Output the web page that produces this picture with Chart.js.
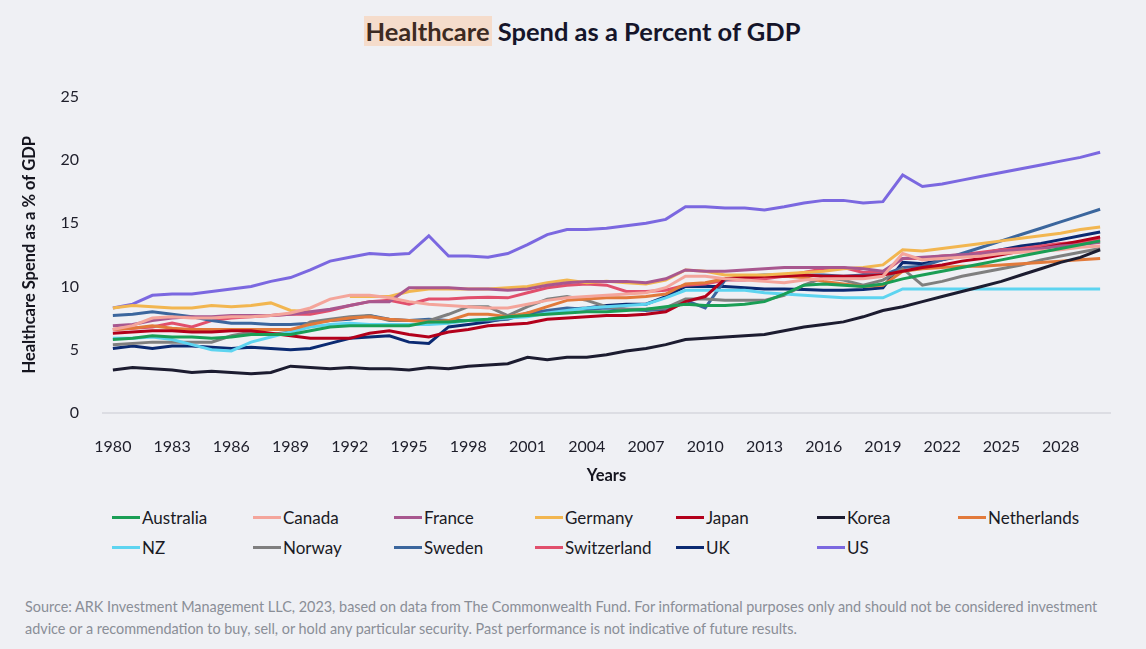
<!DOCTYPE html>
<html lang="en">
  <head>
    <meta charset="UTF-8" />
    <title>Healthcare Spend as a Percent of GDP</title>
    <style>
      body {
        margin: 0;
        width: 1146px;
        height: 649px;
        background: #eff0f4;
        font-family: Lato, "Open Sans", sans-serif;
        position: relative;
        overflow: hidden;
      }
      h1 {
        position: absolute;
        top: 16px;
        left: 9px;
        width: 1146px;
        margin: 0;
        text-align: center;
        font-size: 25.5px;
        line-height: 30px;
        font-weight: 700;
        color: #15152a;
      }
      h1 span {
        background: #f5dccb;
        color: #3d2a22;
        padding: 0 2px;
      }
      .chart-box {
        position: absolute;
        left: 0;
        top: 71px;
        width: 1146px;
        height: 419px;
      }
      #legend {
        position: absolute;
        left: 112px;
        top: 502px;
        display: grid;
        grid-template-columns: repeat(7, 141px);
      }
      .item {
        display: flex;
        align-items: center;
        height: 30px;
        font-size: 17px;
        color: #1a1a24;
      }
      .swatch {
        width: 28px;
        height: 3px;
        margin-right: 2px;
      }
      .source {
        position: absolute;
        left: 25px;
        top: 596px;
        width: 1120px;
        margin: 0;
        font-size: 14.4px;
        line-height: 22px;
        color: #8a8e97;
        white-space: nowrap;
      }
    </style>
  </head>

  <body>
    <h1><span>Healthcare</span> Spend as a Percent of GDP</h1>
    <div class="chart-box">
      <canvas id="gdpChart"></canvas>
    </div>
    <div id="legend"></div>
    <p class="source">
      Source: ARK Investment Management LLC, 2023, based on data from The Commonwealth Fund. For informational purposes only and should not be considered investment<br />
      advice or a recommendation to buy, sell, or hold any particular security. Past performance is not indicative of future results.
    </p>

    <script src="https://cdn.jsdelivr.net/npm/chart.js"></script>
    <script>
      const years = [
        1980, 1981, 1982, 1983, 1984, 1985, 1986, 1987, 1988, 1989,
        1990, 1991, 1992, 1993, 1994, 1995, 1996, 1997, 1998, 1999,
        2000, 2001, 2002, 2003, 2004, 2005, 2006, 2007, 2008, 2009,
        2010, 2011, 2012, 2013, 2014, 2015, 2016, 2017, 2018, 2019,
        2020, 2021, 2022, 2023, 2024, 2025, 2026, 2027, 2028, 2029, 2030,
      ];
      const tickYears = [1980, 1983, 1986, 1989, 1992, 1995, 1998, 2001, 2004, 2007, 2010, 2013, 2016, 2019, 2022, 2025, 2028];
      const yTicks = [0, 5, 10, 15, 20, 25];

      // % of GDP, one value per year 1980..2030
      const australia = [5.8, 5.9, 6.1, 6.0, 6.0, 5.9, 6.0, 6.2, 6.2, 6.2, 6.5, 6.8, 6.9, 6.9, 6.9, 6.9, 7.2, 7.2, 7.3, 7.4, 7.6, 7.7, 7.8, 7.9, 8.0, 8.0, 8.1, 8.2, 8.4, 8.6, 8.5, 8.5, 8.6, 8.8, 9.4, 10.1, 10.2, 10.1, 10.0, 10.2, 10.6, 10.9, 11.2, 11.5, 11.8, 12.1, 12.4, 12.7, 13.0, 13.3, 13.6];
      const canada = [6.6, 6.9, 7.5, 7.6, 7.5, 7.5, 7.6, 7.6, 7.7, 7.9, 8.3, 9.0, 9.3, 9.3, 9.1, 8.8, 8.6, 8.5, 8.4, 8.3, 8.3, 8.6, 8.9, 9.1, 9.2, 9.3, 9.4, 9.5, 9.9, 10.8, 10.8, 10.6, 10.5, 10.4, 10.3, 10.5, 10.6, 10.6, 10.6, 10.8, 12.6, 12.1, 12.2, 12.3, 12.4, 12.6, 12.7, 12.8, 12.9, 13.1, 13.2];
      const france = [6.9, 7.0, 7.3, 7.5, 7.6, 7.6, 7.7, 7.7, 7.7, 7.8, 8.0, 8.2, 8.5, 8.8, 8.8, 9.9, 9.9, 9.9, 9.8, 9.8, 9.7, 9.8, 10.1, 10.3, 10.4, 10.4, 10.4, 10.3, 10.6, 11.3, 11.2, 11.2, 11.3, 11.4, 11.5, 11.5, 11.5, 11.5, 11.4, 11.2, 12.2, 12.3, 12.4, 12.5, 12.6, 12.8, 12.9, 13.0, 13.2, 13.3, 13.5];
      const germany = [8.3, 8.5, 8.4, 8.3, 8.3, 8.5, 8.4, 8.5, 8.7, 8.1, 8.0, null, 9.2, 9.2, 9.2, 9.6, 9.8, 9.8, 9.8, 9.8, 9.9, 10.0, 10.3, 10.5, 10.3, 10.4, 10.3, 10.2, 10.5, 11.3, 11.2, 10.9, 10.9, 10.9, 11.0, 11.1, 11.2, 11.4, 11.5, 11.7, 12.9, 12.8, 13.0, 13.2, 13.4, 13.6, 13.8, 14.0, 14.2, 14.5, 14.7];
      const japan = [6.3, 6.4, 6.5, 6.5, 6.4, 6.4, 6.5, 6.5, 6.3, 6.1, 5.9, 5.9, 5.9, 6.3, 6.5, 6.2, 6.0, 6.4, 6.6, 6.9, 7.0, 7.1, 7.4, 7.5, 7.6, 7.7, 7.7, 7.8, 8.0, 8.8, 9.2, 10.6, 10.7, 10.8, 10.8, 10.9, 10.8, 10.8, 10.8, 10.9, 11.2, 11.5, 11.7, 12.0, 12.2, 12.5, 12.8, 13.0, 13.3, 13.6, 13.9];
      const korea = [3.4, 3.6, 3.5, 3.4, 3.2, 3.3, 3.2, 3.1, 3.2, 3.7, 3.6, 3.5, 3.6, 3.5, 3.5, 3.4, 3.6, 3.5, 3.7, 3.8, 3.9, 4.4, 4.2, 4.4, 4.4, 4.6, 4.9, 5.1, 5.4, 5.8, 5.9, 6.0, 6.1, 6.2, 6.5, 6.8, 7.0, 7.2, 7.6, 8.1, 8.4, 8.8, 9.2, 9.6, 10.0, 10.4, 10.9, 11.4, 11.9, 12.3, 12.9];
      const netherlands = [6.6, 6.7, 6.9, 6.7, 6.6, 6.6, 6.6, 6.6, 6.6, 6.6, 7.0, 7.3, 7.5, 7.6, 7.4, 7.3, 7.2, 7.3, 7.8, 7.8, 7.6, 7.9, 8.4, 8.9, 9.0, 9.1, 9.1, 9.2, 9.4, 10.2, 10.3, 10.6, 10.8, 10.8, 10.8, 10.7, 10.4, 10.2, 10.0, 10.1, 11.2, 11.4, 11.5, 11.6, 11.6, 11.7, 11.8, 11.9, 12.0, 12.1, 12.2];
      const nz = [5.9, 5.9, 6.0, 5.8, 5.4, 5.0, 4.9, 5.6, 6.0, 6.4, 6.8, 7.0, 7.1, 7.0, 7.0, 7.0, 7.0, 7.1, 7.3, 7.4, 7.5, 7.6, 7.9, 8.1, 8.3, 8.4, 8.5, 8.6, 9.1, 9.7, 9.7, 9.7, 9.7, 9.5, 9.4, 9.3, 9.2, 9.1, 9.1, 9.1, 9.8, 9.8, 9.8, 9.8, 9.8, 9.8, 9.8, 9.8, 9.8, 9.8, 9.8];
      const norway = [5.4, 5.5, 5.6, 5.6, 5.6, 5.6, 6.1, 6.4, 6.2, 6.4, 7.2, 7.4, 7.6, 7.7, 7.3, 7.3, 7.3, 7.8, 8.4, 8.4, 7.7, 8.4, 9.0, 9.2, 8.9, 8.4, 8.2, 8.2, 8.3, 9.0, 9.0, 8.9, 8.9, 8.9, 9.3, 10.1, 10.7, 10.5, 10.1, 10.5, 11.4, 10.1, 10.4, 10.8, 11.1, 11.4, 11.7, 12.1, 12.4, 12.7, 13.0];
      const sweden = [7.7, 7.8, 8.0, 7.8, 7.6, 7.3, 7.1, 7.1, 7.0, 7.0, 7.1, 7.3, 7.4, 7.7, 7.4, 7.3, 7.4, 7.3, 7.3, 7.3, 7.4, 7.9, 8.1, 8.3, 8.2, 8.3, 8.2, 8.1, 8.2, 8.9, 8.3, 10.5, 10.8, 10.9, 10.9, 10.9, 10.9, 10.8, 10.9, 10.9, 11.5, 11.6, 12.1, 12.6, 13.1, 13.6, 14.1, 14.6, 15.1, 15.6, 16.1];
      const switzerland = [6.6, 6.7, 6.8, 7.1, 6.8, 7.3, 7.5, 7.6, 7.7, 7.8, 7.8, 8.1, 8.5, 8.8, 8.9, 8.6, 9.0, 9.0, 9.1, 9.15, 9.1, 9.5, 9.9, 10.1, 10.2, 10.1, 9.6, 9.6, 9.7, 10.1, 10.2, 10.5, 10.5, 10.6, 10.8, 11.1, 11.4, 11.5, 11.1, 11.1, 12.2, 12.2, 12.4, 12.5, 12.7, 12.9, 13.0, 13.2, 13.4, 13.5, 13.7];
      const uk = [5.1, 5.3, 5.1, 5.3, 5.3, 5.2, 5.1, 5.2, 5.1, 5.0, 5.1, 5.5, 5.9, 6.0, 6.1, 5.6, 5.5, 6.8, 7.0, 7.2, 7.5, 7.7, 8.0, 8.2, 8.3, 8.5, 8.6, 8.6, 9.2, 10.0, 10.0, 10.0, 9.9, 9.8, 9.8, 9.75, 9.7, 9.7, 9.75, 9.9, 11.9, 11.8, 12.1, 12.4, 12.6, 12.9, 13.2, 13.4, 13.7, 14.0, 14.3];
      const us = [8.3, 8.6, 9.3, 9.4, 9.4, 9.6, 9.8, 10.0, 10.4, 10.7, 11.3, 12.0, 12.3, 12.6, 12.5, 12.6, 14.0, 12.4, 12.4, 12.3, 12.6, 13.3, 14.1, 14.5, 14.5, 14.6, 14.8, 15.0, 15.3, 16.3, 16.3, 16.2, 16.2, 16.05, 16.3, 16.6, 16.8, 16.8, 16.6, 16.7, 18.8, 17.9, 18.1, 18.4, 18.7, 19.0, 19.3, 19.6, 19.9, 20.2, 20.6];

      const series = [
        { name: "Australia", values: australia, color: "#1a9e55" },
        { name: "Canada", values: canada, color: "#f4a59b" },
        { name: "France", values: france, color: "#a8578f" },
        { name: "Germany", values: germany, color: "#f2b650" },
        { name: "Japan", values: japan, color: "#b3001b" },
        { name: "Korea", values: korea, color: "#1c1c30" },
        { name: "Netherlands", values: netherlands, color: "#e27a3b" },
        { name: "NZ", values: nz, color: "#5dd4f0" },
        { name: "Norway", values: norway, color: "#7f7f7f" },
        { name: "Sweden", values: sweden, color: "#3b669d" },
        { name: "Switzerland", values: switzerland, color: "#e14f6c" },
        { name: "UK", values: uk, color: "#0b2a72" },
        { name: "US", values: us, color: "#7b68e0" },
      ];

      const tickFont = { family: "Lato", size: 16 };
      const titleFont = { family: "Lato", size: 16.5, weight: "bold" };

      const ctx = document.getElementById("gdpChart").getContext("2d");
      const gdpChart = new Chart(ctx, {
        type: "line",
        data: {
          labels: years,
          datasets: series.map((s) => ({
            label: s.name,
            data: s.values,
            borderColor: s.color,
            backgroundColor: s.color,
            borderWidth: 3,
            pointRadius: 0,
            tension: 0,
            spanGaps: false,
          })),
        },
        options: {
          responsive: true,
          maintainAspectRatio: false,
          animation: false,
          layout: { padding: { top: 6, right: 36, left: 0, bottom: 0 } },
          plugins: {
            legend: { display: false },
            tooltip: { enabled: false },
          },
          scales: {
            x: {
              offset: true,
              grid: { display: false },
              border: { display: true, color: "#dcdde3", width: 2 },
              ticks: {
                autoSkip: false,
                maxRotation: 0,
                minRotation: 0,
                padding: 16,
                color: "#1e1e2a",
                font: tickFont,
                callback: function (value) {
                  const yr = years[value];
                  return tickYears.includes(yr) ? String(yr) : "";
                },
              },
              title: {
                display: true,
                text: "Years",
                color: "#15151f",
                font: titleFont,
                padding: { top: 0, bottom: 4 },
              },
              afterFit: (scale) => {
                scale.height = 77;
              },
            },
            y: {
              min: 0,
              max: 25,
              grid: { display: false },
              border: { display: false },
              afterBuildTicks: (scale) => {
                scale.ticks = yTicks.map((v) => ({ value: v }));
              },
              ticks: {
                padding: 16,
                color: "#1e1e2a",
                font: tickFont,
              },
              title: {
                display: true,
                text: "Healthcare Spend as a % of GDP",
                color: "#15151f",
                font: titleFont,
                padding: { top: 20, bottom: 0 },
              },
              afterFit: (scale) => {
                scale.width = 103;
              },
            },
          },
        },
      });

      // legend laid out in fixed columns like the original
      const legendBox = document.getElementById("legend");
      gdpChart.data.datasets.forEach((ds) => {
        const item = document.createElement("div");
        item.className = "item";
        const sw = document.createElement("span");
        sw.className = "swatch";
        sw.style.background = ds.borderColor;
        const txt = document.createElement("span");
        txt.textContent = ds.label;
        item.appendChild(sw);
        item.appendChild(txt);
        legendBox.appendChild(item);
      });
    </script>
  </body>
</html>
